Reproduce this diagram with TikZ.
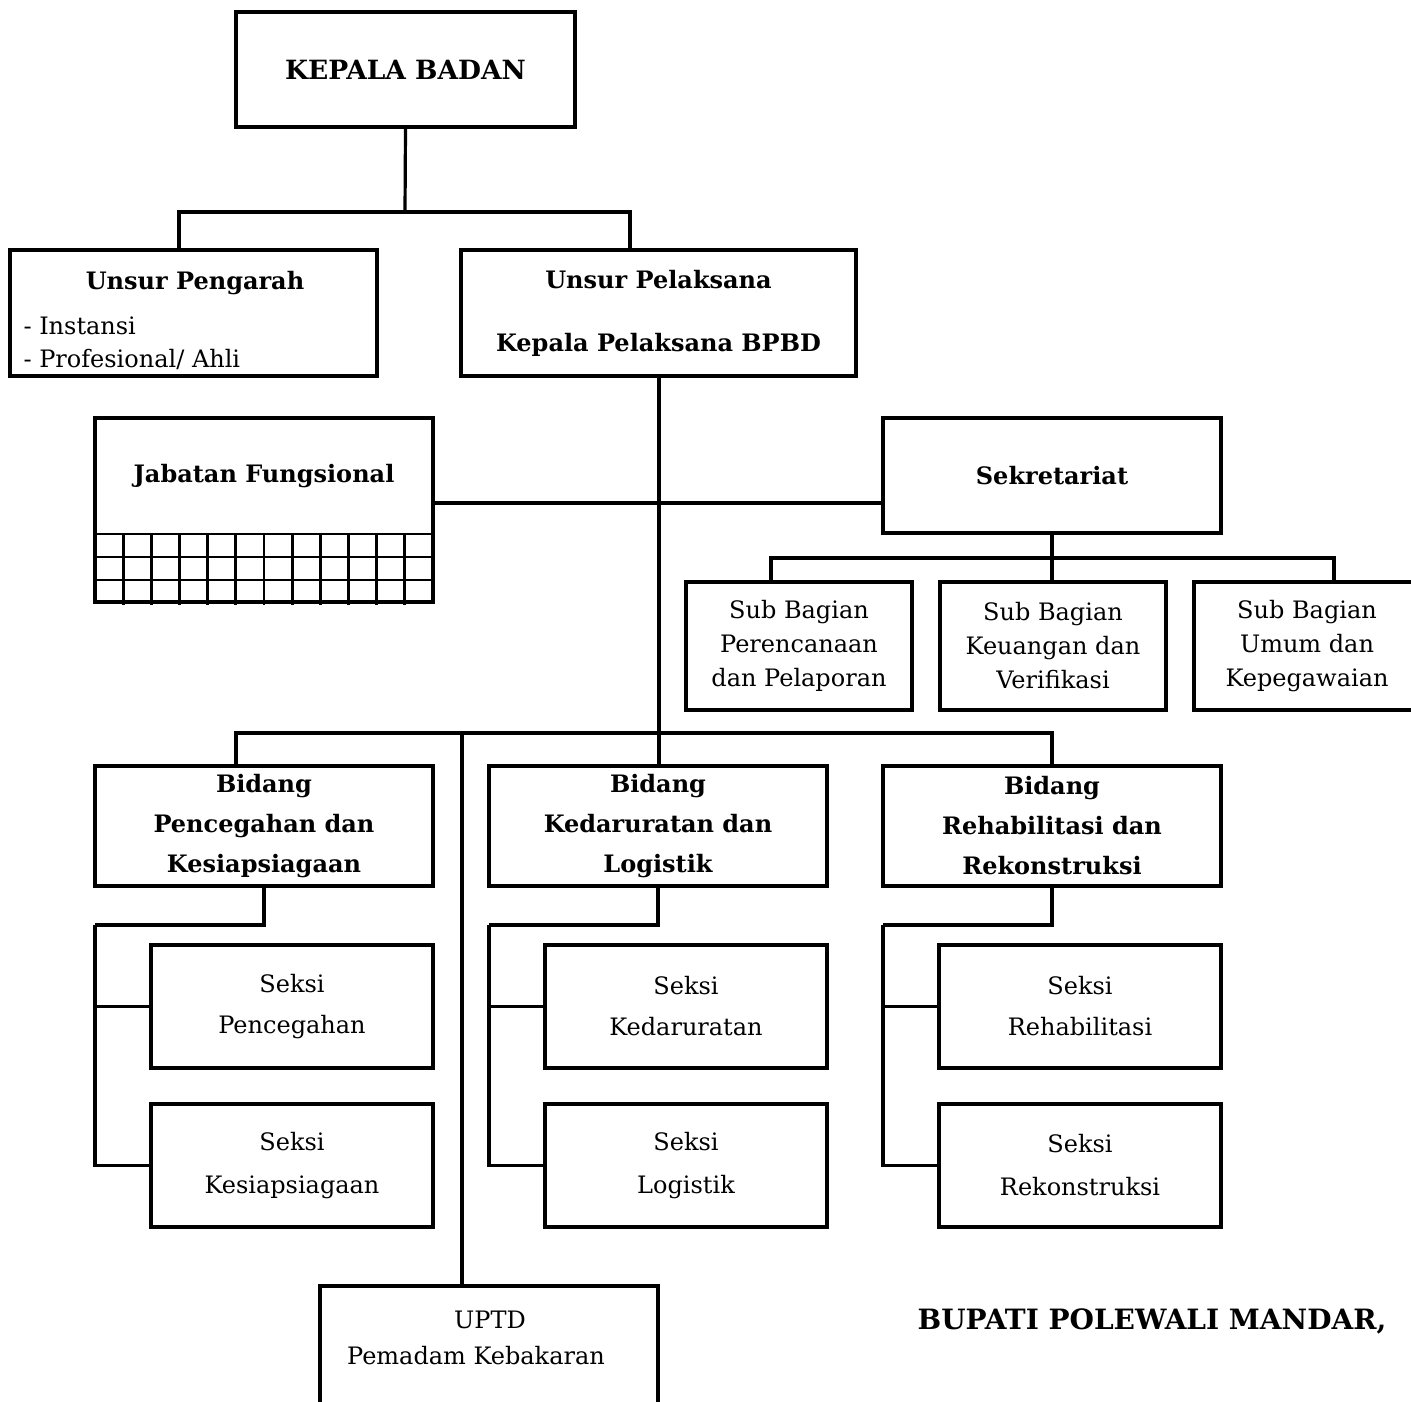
\documentclass[tikz,border=0pt]{standalone}
\usepackage{fontspec}
\setmainfont{DejaVu Serif}
\usetikzlibrary{positioning}

\tikzset{
  box/.style={draw, line width=3.2pt, rectangle, inner sep=0pt, align=center},
  conn/.style={draw, line width=3.2pt},
  txt/.style={font=\fontsize{24}{34}\selectfont, align=center},
  btxt/.style={font=\fontsize{24}{40}\selectfont\bfseries, align=center}
}

\begin{document}
\begin{tikzpicture}[x=1pt, y=-1pt]
  \useasboundingbox (0,0) rectangle (1411,1401);
  \clip (0,0) rectangle (1411,1401);

  % top
  \node[box, btxt, font=\fontsize{26.5}{30}\selectfont\bfseries, minimum width=339pt, minimum height=115pt] (kepala) at (405.5,69.5) {KEPALA BADAN};
  \node[box, minimum width=367pt, minimum height=126pt] (pengarah) at (193.5,313) {};
  \node[btxt, anchor=base] (pengarahT) at (195,289) {Unsur Pengarah};
  \node[txt, anchor=base west, align=left, font=\fontsize{24}{33}\selectfont] (pengarahL) at (20,367) {- Instansi\\- Profesional/ Ahli};
  \node[box, btxt, minimum width=395pt, minimum height=126pt, font=\fontsize{24}{63}\selectfont\bfseries] (pelaksana) at (658.5,313) {Unsur Pelaksana\\Kepala Pelaksana BPBD};

  \coordinate (kj) at (405,212);
  \draw[conn] (kepala.south) -- (kj);
  \draw[conn] (179,250) |- (kj) -| (630,250);

  % jabatan fungsional and sekretariat
  \node[box, minimum width=338pt, minimum height=184pt] (jabfung) at (264,510) {};
  \node[btxt] (jabfungT) at (264,476) {Jabatan Fungsional};
  \draw[line width=2.8pt] (95,534) -- (433,534) (95,557) -- (433,557) (95,580) -- (433,580);
  \foreach \i in {1,...,11}
    \draw[line width=2.8pt] (95+\i*28.17,534) -- (95+\i*28.17,605);

  \node[box, btxt, minimum width=338pt, minimum height=115pt] (sekre) at (1052,475.5) {Sekretariat};
  \draw[conn] (jabfung.east |- 0,503) -- (sekre.west |- 0,503);

  \node[box, txt, minimum width=226pt, minimum height=128pt] (sub1) at (799,646) {Sub Bagian\\Perencanaan\\dan Pelaporan};
  \node[box, txt, minimum width=226pt, minimum height=128pt] (sub2) at (1053,646) {Sub Bagian\\Keuangan dan\\Verifikasi};
  \node[box, txt, minimum width=226pt, minimum height=128pt] (sub3) at (1307,646) {Sub Bagian\\Umum dan\\Kepegawaian};

  \coordinate (sj) at (1052,558);
  \draw[conn] (sekre.south) -- (sj);
  \draw[conn] (771,582) |- (sj) -| (1334,582);
  \draw[conn] (sj) -- (1052,582);

  % main spine
  \coordinate (bj) at (659,733);
  \draw[conn] (pelaksana.south -| bj) -- (bj);

  % bidang
  \node[box, btxt, minimum width=338pt, minimum height=120pt] (bid1) at (264,826) {Bidang\\Pencegahan dan\\Kesiapsiagaan};
  \node[box, btxt, minimum width=338pt, minimum height=120pt] (bid2) at (658,826) {Bidang\\Kedaruratan dan\\Logistik};
  \node[box, btxt, minimum width=338pt, minimum height=120pt] (bid3) at (1052,826) {Bidang\\Rehabilitasi dan\\Rekonstruksi};

  \draw[conn] (236,766) |- (bj) -| (bid3.north);
  \draw[conn] (bj) -- (bid2.north -| bj);

  % seksi
  \foreach \n/\cx/\a/\b in {1/264/Pencegahan/Kesiapsiagaan, 2/658/Kedaruratan/Logistik, 3/1052/Rehabilitasi/Rekonstruksi} {
    \node[box, minimum width=282pt, minimum height=123pt, font=\fontsize{24}{41}\selectfont] (seksiA\n) at (\cx+28,1006.5) {Seksi\\\a};
    \node[box, minimum width=282pt, minimum height=123pt, font=\fontsize{24}{43}\selectfont] (seksiB\n) at (\cx+28,1165.5) {Seksi\\\b};
    \coordinate (sk\n) at (\cx-169,925);
    \draw[conn] (bid\n.south) |- (sk\n);
    \draw[conn] (sk\n) |- (seksiB\n.west);
    \draw[conn] (seksiA\n.west -| sk\n) -- (seksiA\n.west);
  }

  % uptd
  \node[box, minimum width=338pt, minimum height=160pt] (uptd) at (489,1366) {};
  \node[txt, font=\fontsize{24}{36}\selectfont] (uptdT) at (476,1338) {\hspace*{28pt}UPTD\\Pemadam Kebakaran};
  \draw[conn] (462,733) -- (uptd.north -| 462,0);

  \node[btxt, font=\fontsize{28}{30}\selectfont\bfseries] (bupati) at (1152,1321) {BUPATI POLEWALI MANDAR,};
\end{tikzpicture}
\end{document}
